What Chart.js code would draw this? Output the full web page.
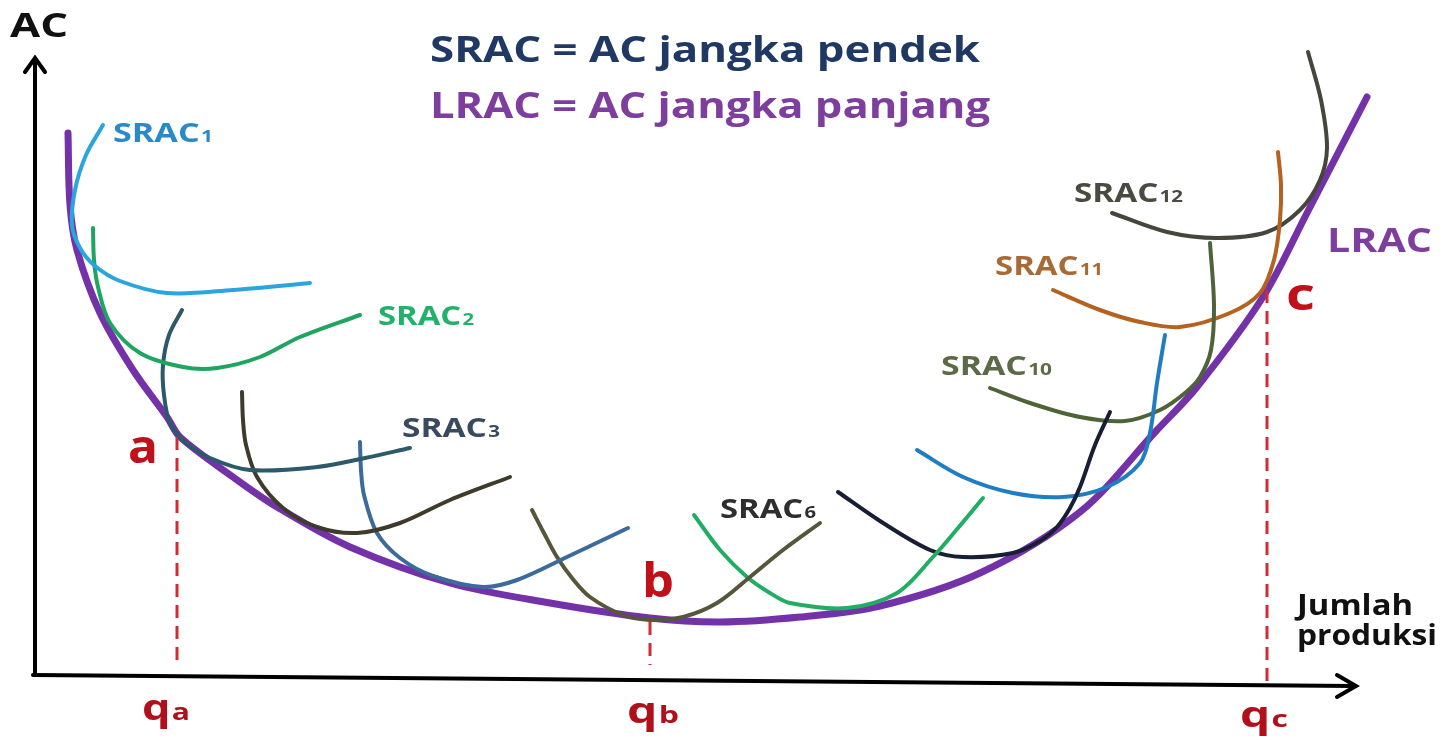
<!DOCTYPE html>
<html>
<head>
<meta charset="utf-8">
<script src="https://cdn.jsdelivr.net/npm/chart.js@4.4.1/dist/chart.umd.min.js"></script>
<style>
  html, body { margin: 0; padding: 0; background: #ffffff; overflow: hidden; }
  #wrap { width: 1453px; height: 740px; position: relative; }
</style>
</head>
<body>
<div id="wrap"><canvas id="c" width="1453" height="740"></canvas></div>
<script>
// ---- Data (x = quantity position, y = AC position, picture units) ----
const LRAC   = [[68,133],[70,205],[77,250],[100,313],[133,370],[167,417],[180,437],[233,477],[277,507],[350,547],[450,583],[550,603],[650,618],[720,622],[800,617],[880,606],[980,573],[1080,512],[1157,430],[1197,387],[1263,297],[1307,213],[1367,97]];
const SRAC1  = [[103,125],[86,155],[75,190],[72,225],[80,248],[95,266],[120,281],[167,293],[233,290],[310,283]];
const SRAC2  = [[93,228],[94,260],[98,287],[110,323],[140,353],[183,367],[217,368],[260,357],[300,337],[360,315]];
const SRAC3  = [[182,310],[169,335],[163,365],[164,395],[170,423],[185,442],[210,458],[250,470],[317,467],[365,458],[410,448]];
const SRAC4  = [[242,392],[243,420],[246,445],[257,477],[283,508],[317,527],[357,533],[400,523],[450,500],[510,477]];
const SRAC5  = [[360,442],[361,470],[364,495],[377,533],[400,558],[433,576],[483,587],[517,580],[567,557],[628,528]];
const SRAC6  = [[532,510],[545,535],[557,557],[572,578],[590,597],[623,615],[650,620],[683,617],[717,603],[750,577],[783,550],[820,523]];
const SRAC7  = [[694,515],[720,550],[747,577],[770,593],[790,603],[847,608],[897,593],[933,557],[958,528],[983,498]];
const SRAC8  = [[838,492],[880,521],[930,550],[963,557],[1013,553],[1040,541],[1057,527],[1070,508],[1080,487],[1095,445],[1110,412]];
const SRAC9  = [[917,450],[963,477],[1013,493],[1063,497],[1107,487],[1140,463],[1150,433],[1157,383],[1165,335]];
const SRAC10 = [[990,388],[1030,403],[1080,417],[1125,421],[1160,410],[1185,393],[1200,377],[1211,350],[1214,305],[1210,243]];
const SRAC11 = [[1053,290],[1100,310],[1140,322],[1180,327],[1230,313],[1260,293],[1274,260],[1280,220],[1281,185],[1278,152]];
const SRAC12 = [[1112,213],[1167,232],[1217,238],[1267,232],[1300,210],[1320,180],[1327,148],[1321,100],[1308,52]];
// points a, b, c on LRAC and their quantities qa, qb, qc
const POINT_X   = [177, 650, 1267];
const POINT_Y   = [437, 622, 290];
const AXIS_Y_AT = [663, 665, 683];
// axes
const AXIS_Y  = [[35,675],[35,60]];
const ARROW_Y = [[25,72],[35,58],[45,72]];
const AXIS_X  = [[33,675],[1353,686]];
const ARROW_X = [[1337,675],[1356,686],[1337,697]];

const toXY = arr => arr.map(p => ({x: p[0], y: p[1]}));

function curve(data, color, width) {
  return { data: toXY(data), borderColor: color, borderWidth: width, showLine: true, tension: 0.33,
           pointRadius: 0, fill: false, clip: false, borderCapStyle: 'round', borderJoinStyle: 'round' };
}
function straight(data, color, width, dash) {
  return { data: toXY(data), borderColor: color, borderWidth: width, showLine: true, tension: 0,
           pointRadius: 0, fill: false, clip: false, borderDash: dash || [], borderCapStyle: dash ? 'butt' : 'round', borderJoinStyle: 'miter' };
}

const datasets = [
  straight(AXIS_Y, '#000', 4), straight(ARROW_Y, '#000', 4),
  straight(AXIS_X, '#000', 4), straight(ARROW_X, '#000', 4),
  curve(SRAC1,  '#2AA5DE', 4),
  curve(SRAC2,  '#1FA560', 4),
  curve(SRAC3,  '#2C5A6A', 4),
  curve(SRAC4,  '#3E3B2C', 4),
  curve(SRAC5,  '#3C6A9A', 4),
  curve(SRAC6,  '#56563A', 4),
  curve(SRAC7,  '#21AD63', 4),
  curve(SRAC8,  '#181E33', 4),
  curve(SRAC9,  '#1F7DC2', 4),
  curve(SRAC10, '#4F6338', 4),
  curve(SRAC11, '#B4621F', 4),
  curve(SRAC12, '#46463C', 4),
];
POINT_X.forEach((x, i) => datasets.push(straight([[x, POINT_Y[i]], [x, AXIS_Y_AT[i]]], '#D42A32', 3, [13, 8])));
datasets.push(curve(LRAC, '#7432A8', 7));

const labels = [
  {t:'AC', s:'', x:10, y:37, f:34, c:'#111111', w:58},
  {t:'SRAC = AC jangka pendek', s:'', x:430, y:62, f:36, c:'#1F3864', w:550},
  {t:'LRAC = AC jangka panjang', s:'', x:430, y:118, f:36, c:'#7E3E9E', w:560},
  {t:'SRAC', s:'1', x:113, y:142, f:26, c:'#2A8AC8', w:100},
  {t:'SRAC', s:'2', x:378, y:325, f:26, c:'#22B16A', w:96},
  {t:'SRAC', s:'3', x:402, y:437, f:26, c:'#3A4A5E', w:98},
  {t:'SRAC', s:'6', x:720, y:518, f:26, c:'#2E2E2E', w:96},
  {t:'SRAC', s:'10', x:941, y:375, f:26, c:'#5B6B45', w:111},
  {t:'SRAC', s:'11', x:995, y:275, f:26, c:'#A86A36', w:108},
  {t:'SRAC', s:'12', x:1074, y:202, f:26, c:'#4A4A40', w:109},
  {t:'LRAC', s:'', x:1327, y:252, f:34, c:'#7E3E9E', w:105},
  {t:'a', s:'', x:128, y:463, f:46, c:'#C0101A', w:30},
  {t:'b', s:'', x:642, y:597, f:46, c:'#C0101A', w:32},
  {t:'c', s:'', x:1286, y:310, f:44, c:'#C0101A', w:29},
  {t:'q', s:'a', x:142, y:720, f:36, c:'#B0101A', w:48, sub:0.66},
  {t:'q', s:'b', x:627, y:723, f:36, c:'#B0101A', w:52, sub:0.66},
  {t:'q', s:'c', x:1240, y:727, f:36, c:'#B0101A', w:48, sub:0.66},
  {t:'Jumlah', s:'', x:1297, y:615, f:28, c:'#111111', w:116},
  {t:'produksi', s:'', x:1297, y:645, f:28, c:'#111111', w:140},
];

const textPlugin = {
  id: 'texts',
  afterDatasetsDraw(chart) {
    const ctx = chart.ctx;
    labels.forEach(L => {
      const subF = Math.round(L.f * (L.sub || 0.62));
      ctx.save();
      ctx.font = '700 ' + L.f + 'px "Open Sans", sans-serif';
      const w1 = ctx.measureText(L.t).width;
      ctx.font = '700 ' + subF + 'px "Open Sans", sans-serif';
      const w2 = L.s ? ctx.measureText(L.s).width + 1 : 0;
      const sx = L.w / (w1 + w2);
      ctx.translate(L.x, L.y);
      ctx.scale(sx, 1);
      ctx.fillStyle = L.c;
      ctx.textBaseline = 'alphabetic';
      ctx.font = '700 ' + L.f + 'px "Open Sans", sans-serif';
      ctx.fillText(L.t, 0, 0);
      if (L.s) {
        ctx.font = '700 ' + subF + 'px "Open Sans", sans-serif';
        ctx.fillText(L.s, w1 + 1, 0);
      }
      ctx.restore();
    });
  }
};

new Chart(document.getElementById('c'), {
  type: 'scatter',
  data: { datasets },
  options: {
    responsive: false,
    animation: false,
    layout: { padding: 0 },
    plugins: { legend: { display: false }, tooltip: { enabled: false }, title: { display: false } },
    scales: {
      x: { type: 'linear', min: 0, max: 1453, display: false },
      y: { type: 'linear', min: 0, max: 740, reverse: true, display: false }
    },
    elements: { point: { radius: 0, hoverRadius: 0 } },
    events: []
  },
  plugins: [textPlugin]
});
</script>
</body>
</html>
